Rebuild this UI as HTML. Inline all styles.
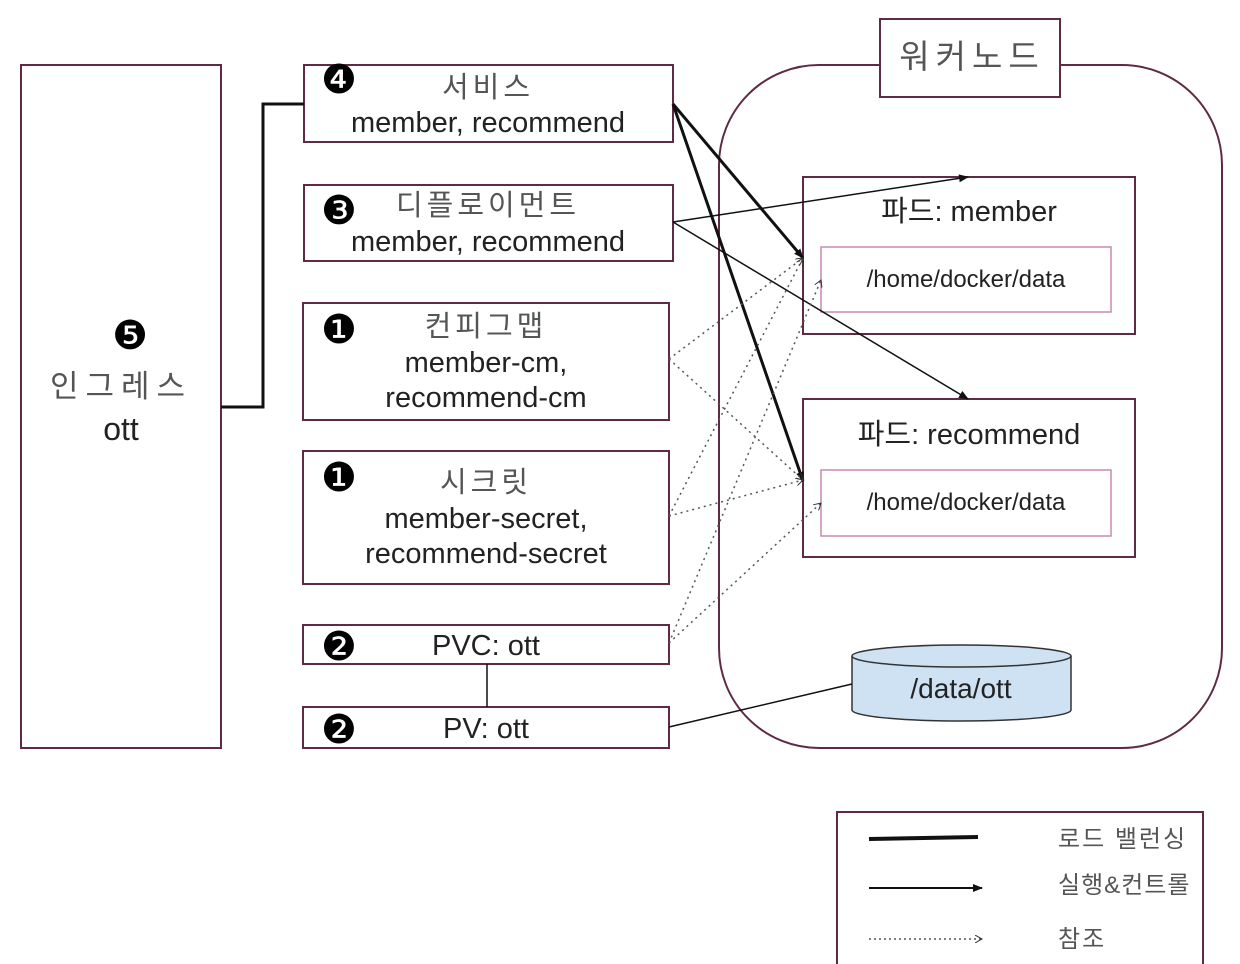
<!DOCTYPE html>
<html><head><meta charset="utf-8"><style>
html,body{margin:0;padding:0;background:#fff;}
svg{display:block;}
text{font-family:"Liberation Sans","Noto Sans CJK KR",sans-serif;fill:#222;}
.n{font-family:"DejaVu Sans",sans-serif;fill:#000;}
.k{fill:#555;letter-spacing:4px;}
</style></head><body>
<svg width="1240" height="964" viewBox="0 0 1240 964" xmlns="http://www.w3.org/2000/svg">
<defs>
<marker id="a" markerWidth="10" markerHeight="8" refX="9" refY="4" orient="auto" markerUnits="userSpaceOnUse"><path d="M0,0 L10,4 L0,8z" fill="#111"/></marker>
<marker id="d" markerWidth="8" markerHeight="8" refX="7" refY="4" orient="auto" markerUnits="userSpaceOnUse"><path d="M0,0 L7,4 L0,8" fill="none" stroke="#333" stroke-width="1"/></marker>
</defs>
<g fill="#fff" stroke="#5e2a44" stroke-width="2">
<rect x="21" y="65" width="200" height="683"/>
<rect x="304" y="65" width="369" height="77"/>
<rect x="304" y="185" width="369" height="76"/>
<rect x="303" y="303" width="366" height="117"/>
<rect x="303" y="451" width="366" height="133"/>
<rect x="303" y="625" width="366" height="39"/>
<rect x="303" y="707" width="366" height="41"/>
<rect x="719" y="65" width="503" height="683" rx="100" ry="100"/>
<rect x="880" y="19" width="180" height="78"/>
<rect x="803" y="177" width="332" height="157"/>
<rect x="803" y="399" width="332" height="158"/>
<rect x="837" y="812" width="366" height="160"/>
</g>
<g fill="none" stroke="#c98ab0" stroke-width="1.5">
<rect x="821" y="247" width="290" height="65"/>
<rect x="821" y="470" width="290" height="66"/>
</g>
<path d="M852,656 L852,710 A109,11 0 0 0 1071,710 L1071,656" fill="#cfe2f3" stroke="#333" stroke-width="1.5"/>
<ellipse cx="961.5" cy="656" rx="109.5" ry="11" fill="#cfe2f3" stroke="#333" stroke-width="1.5"/>
<polyline points="221,407 263,407 263,104 304,104" fill="none" stroke="#111" stroke-width="3"/>
<line x1="487" y1="664" x2="487" y2="707" stroke="#111" stroke-width="1.5"/>
<line x1="669" y1="727" x2="852" y2="684" stroke="#111" stroke-width="1.5"/>
<g stroke="#111" stroke-width="3" fill="none">
<line x1="673" y1="104" x2="803" y2="258" marker-end="url(#a)"/>
<line x1="673" y1="104" x2="803" y2="481" marker-end="url(#a)"/>
</g>
<g stroke="#111" stroke-width="1.5">
<line x1="673" y1="222" x2="968" y2="177" marker-end="url(#a)"/>
<line x1="673" y1="222" x2="968" y2="399" marker-end="url(#a)"/>
</g>
<g stroke="#555" stroke-width="1.5" stroke-dasharray="2,4" fill="none">
<line x1="669" y1="359" x2="803" y2="258" marker-end="url(#d)"/>
<line x1="669" y1="359" x2="803" y2="480" marker-end="url(#d)"/>
<line x1="669" y1="516" x2="803" y2="258" marker-end="url(#d)"/>
<line x1="669" y1="516" x2="803" y2="480" marker-end="url(#d)"/>
<line x1="669" y1="643" x2="821" y2="280" marker-end="url(#d)"/>
<line x1="669" y1="643" x2="821" y2="503" marker-end="url(#d)"/>
</g>
<line x1="869" y1="839" x2="978" y2="837" stroke="#111" stroke-width="4"/>
<line x1="869" y1="888" x2="982" y2="888" stroke="#111" stroke-width="2" marker-end="url(#a)"/>
<line x1="869" y1="939" x2="982" y2="939" stroke="#333" stroke-width="1.2" stroke-dasharray="2,3" marker-end="url(#d)"/>
<g font-size="29" text-anchor="middle">
<text x="121" y="397" font-size="31" class="k" style="letter-spacing:7px">인그레스</text>
<text x="121" y="440" font-size="32">ott</text>
<text x="488" y="97" class="k">서비스</text>
<text x="488" y="132">member, recommend</text>
<text x="488" y="215" class="k">디플로이먼트</text>
<text x="488" y="251">member, recommend</text>
<text x="486" y="336" class="k">컨피그맵</text>
<text x="486" y="372">member-cm,</text>
<text x="486" y="407">recommend-cm</text>
<text x="486" y="492" class="k">시크릿</text>
<text x="486" y="528">member-secret,</text>
<text x="486" y="563">recommend-secret</text>
<text x="486" y="655">PVC: ott</text>
<text x="486" y="738">PV: ott</text>
<text x="972" y="68" font-size="33" class="k" style="letter-spacing:6px">워커노드</text>
<text x="969" y="221">파드: member</text>
<text x="969" y="444">파드: recommend</text>
<text x="966" y="287" font-size="24">/home/docker/data</text>
<text x="966" y="510" font-size="24">/home/docker/data</text>
<text x="961" y="698" font-size="28">/data/ott</text>
</g>
<g class="n" font-size="40">
<text x="130" y="349" class="n" text-anchor="middle">❺</text>
<text x="321" y="93" class="n">❹</text>
<text x="321" y="224" class="n">❸</text>
<text x="321" y="343" class="n">❶</text>
<text x="321" y="491" class="n">❶</text>
<text x="321" y="660" class="n">❷</text>
<text x="321" y="743" class="n">❷</text>
</g>
<g font-size="24">
<text x="1058" y="847" class="k" style="letter-spacing:2px">로드 밸런싱</text>
<text x="1058" y="893" class="k" style="letter-spacing:1px">실행&amp;컨트롤</text>
<text x="1058" y="947" class="k" style="letter-spacing:2px">참조</text>
</g>
</svg>
</body></html>
